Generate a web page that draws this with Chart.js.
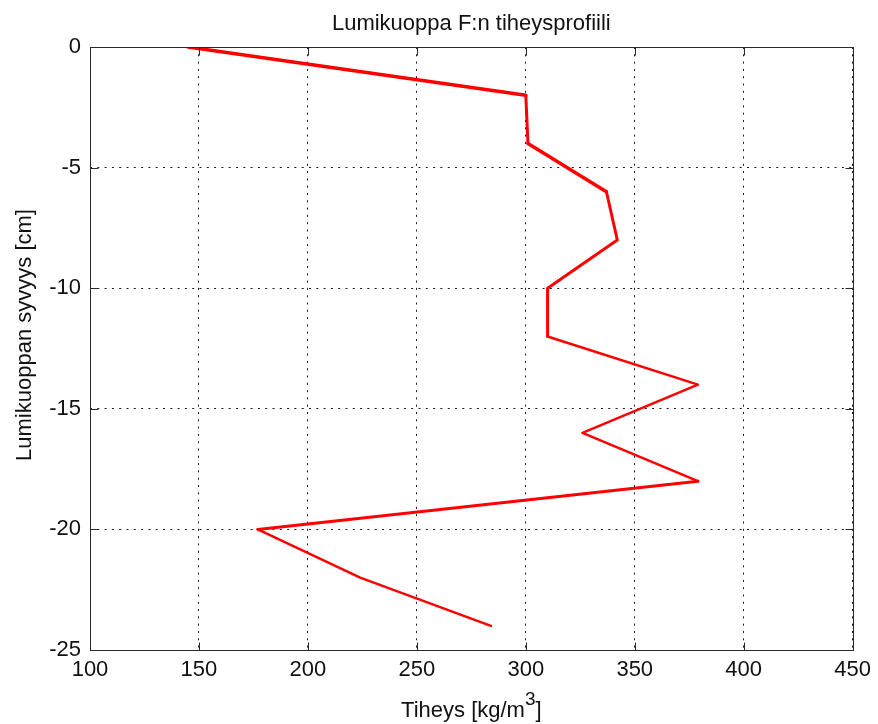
<!DOCTYPE html>
<html>
<head>
<meta charset="utf-8">
<title>Lumikuoppa F:n tiheysprofiili</title>
<script src="https://cdn.jsdelivr.net/npm/chart.js@4/dist/chart.umd.min.js"></script>
<style>
  html, body { margin: 0; padding: 0; background: #ffffff; }
  #wrap { width: 878px; height: 724px; }
</style>
</head>
<body>
<div id="wrap"><canvas id="c" width="878" height="724"></canvas></div>
<script>
// Snow pit F: measured density at each sampled depth
const depthCm = [0, -2, -4, -6, -8, -10, -12, -14, -16, -18, -20, -22, -24];
const densityKgM3 = [145, 300, 301, 337, 342, 310, 310, 379, 326, 379, 177, 224, 284];

// Axis ticks
const xTicks = [100, 150, 200, 250, 300, 350, 400, 450];
const yTicks = [0, -5, -10, -15, -20, -25];

// Texts
const chartTitle = 'Lumikuoppa F:n tiheysprofiili';
const yTitle = 'Lumikuoppan syvyys [cm]';
const xTitleMain = 'Tiheys [kg/m';
const xTitleSup = '3';
const xTitleEnd = ']';

// Stroke width of each line segment
const segmentWidths = [3.5, 3, 3.5, 3, 3, 3, 2.5, 2.5, 2.5, 3, 2.5, 2.5];

const FONT = '"Liberation Sans", Arial, Helvetica, sans-serif';
const TEXT = '#111111';
const AXIS = '#2a2a2a';

const points = depthCm.map((d, i) => ({ x: densityKgM3[i], y: d }));

// Solid frame, inward tick marks and titles
const framePlugin = {
  id: 'frame',
  afterDatasetsDraw(chart) {
    const { ctx, chartArea: a, scales } = chart;
    const L = Math.round(a.left) + 0.5, R = Math.round(a.right) + 0.5;
    const T = Math.round(a.top) + 0.5, B = Math.round(a.bottom) + 0.5;
    const tl = 8;
    ctx.save();
    ctx.strokeStyle = AXIS;
    ctx.lineWidth = 1;
    ctx.setLineDash([]);
    ctx.beginPath();
    ctx.rect(L, T, R - L, B - T);
    xTicks.forEach(v => {
      const px = Math.round(scales.x.getPixelForValue(v)) + 0.5;
      ctx.moveTo(px, B); ctx.lineTo(px, B - tl);
      ctx.moveTo(px, T); ctx.lineTo(px, T + tl);
    });
    yTicks.forEach(v => {
      const py = Math.round(scales.y.getPixelForValue(v)) + 0.5;
      ctx.moveTo(L, py); ctx.lineTo(L + tl, py);
      ctx.moveTo(R, py); ctx.lineTo(R - tl, py);
    });
    ctx.stroke();
    ctx.restore();
  },
  afterDraw(chart) {
    const { ctx, chartArea: a } = chart;
    const cx = (a.left + a.right) / 2;
    ctx.save();
    ctx.fillStyle = TEXT;
    ctx.textBaseline = 'alphabetic';

    // chart title
    ctx.font = '22px ' + FONT;
    ctx.textAlign = 'center';
    ctx.fillText(chartTitle, cx, 30);

    // x axis title with superscript
    const mainFont = '22px ' + FONT, supFont = '19px ' + FONT;
    ctx.font = mainFont; const w1 = ctx.measureText(xTitleMain).width;
    const w3 = ctx.measureText(xTitleEnd).width;
    ctx.font = supFont; const w2 = ctx.measureText(xTitleSup).width;
    let x0 = cx - (w1 + w2 + w3) / 2;
    const base = 717;
    ctx.textAlign = 'left';
    ctx.font = mainFont; ctx.fillText(xTitleMain, x0, base);
    ctx.font = supFont; ctx.fillText(xTitleSup, x0 + w1, base - 12);
    ctx.font = mainFont; ctx.fillText(xTitleEnd, x0 + w1 + w2, base);

    // y axis title
    ctx.translate(25, 335);
    ctx.rotate(-Math.PI / 2);
    ctx.textAlign = 'center';
    ctx.textBaseline = 'middle';
    ctx.font = '22px ' + FONT;
    ctx.fillText(yTitle, 0, 0);
    ctx.restore();
  }
};

new Chart(document.getElementById('c'), {
  type: 'scatter',
  data: {
    datasets: [{
      data: points,
      showLine: true,
      borderColor: '#ff0000',
      backgroundColor: '#ff0000',
      borderWidth: 3,
      borderJoinStyle: 'round',
      borderCapStyle: 'round',
      pointRadius: 0,
      pointHoverRadius: 0,
      tension: 0,
      fill: false,
      segment: {
        borderWidth: ctx => segmentWidths[ctx.p0DataIndex]
      }
    }]
  },
  options: {
    responsive: false,
    animation: false,
    events: [],
    layout: { padding: { top: 47, right: 24, left: 0, bottom: 0 } },
    plugins: {
      legend: { display: false },
      title: { display: false },
      tooltip: { enabled: false }
    },
    scales: {
      x: {
        type: 'linear',
        min: 100,
        max: 450,
        afterBuildTicks: s => { s.ticks = xTicks.map(v => ({ value: v })); },
        afterFit: s => { s.height = 74; },
        ticks: {
          color: TEXT,
          font: { family: FONT, size: 22 },
          padding: 7,
          maxRotation: 0,
          autoSkip: false
        },
        grid: {
          color: '#1a1a1a',
          lineWidth: 1,
          drawTicks: false
        },
        border: { display: false, dash: [2, 5.3] }
      },
      y: {
        type: 'linear',
        min: -25,
        max: 0,
        afterBuildTicks: s => { s.ticks = yTicks.map(v => ({ value: v })); },
        afterFit: s => { s.width = 90; },
        ticks: {
          color: TEXT,
          font: { family: FONT, size: 22 },
          padding: 9,
          autoSkip: false
        },
        grid: {
          color: '#1a1a1a',
          lineWidth: 1,
          drawTicks: false
        },
        border: { display: false, dash: [2, 5.3] }
      }
    }
  },
  plugins: [framePlugin]
});
</script>
</body>
</html>
